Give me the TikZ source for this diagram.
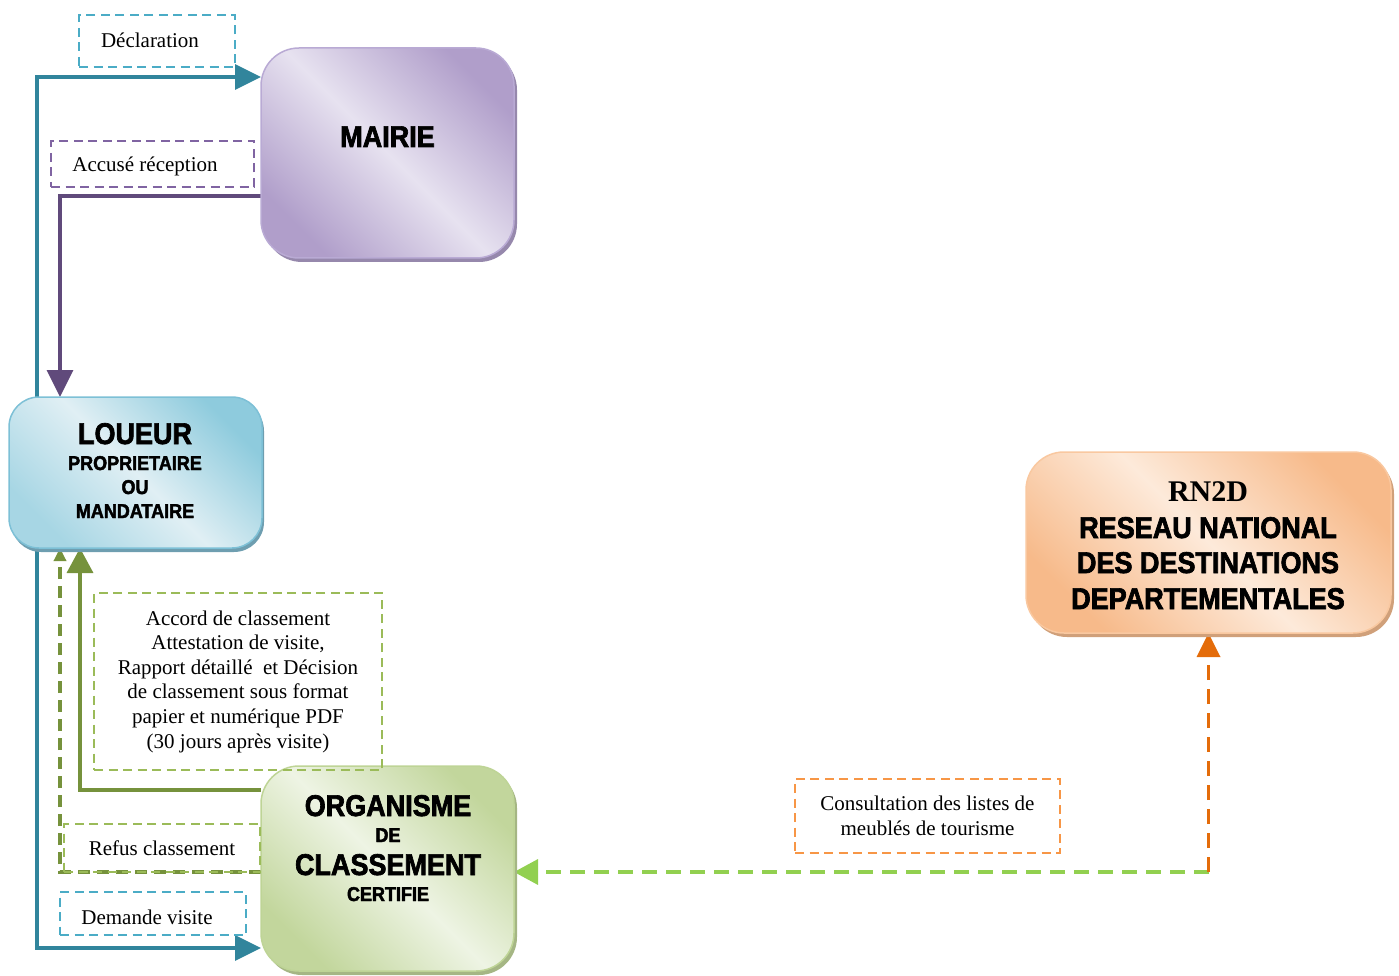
\documentclass[tikz,border=0pt]{standalone}
\usepackage{fontspec}
\setmainfont{Liberation Serif}
\newfontfamily\headfont[FakeStretch=0.9,BoldFeatures={FakeBold=2.2}]{Liberation Sans}
\usetikzlibrary{arrows.meta,shadows}
\definecolor{mairieDark}{RGB}{176,158,202}
\definecolor{mairieLight}{RGB}{231,226,240}
\definecolor{mairieBorder}{RGB}{185,170,212}
\definecolor{mairieShadow}{RGB}{150,136,172}
\definecolor{loueurDark}{RGB}{142,203,221}
\definecolor{loueurLight}{RGB}{224,239,244}
\definecolor{loueurBorder}{RGB}{125,192,214}
\definecolor{loueurShadow}{RGB}{110,158,176}
\definecolor{orgDark}{RGB}{194,214,156}
\definecolor{orgLight}{RGB}{238,244,228}
\definecolor{orgBorder}{RGB}{190,212,150}
\definecolor{orgShadow}{RGB}{165,182,132}
\definecolor{rnDark}{RGB}{247,186,138}
\definecolor{rnLight}{RGB}{253,234,218}
\definecolor{rnBorder}{RGB}{249,200,160}
\definecolor{rnShadow}{RGB}{208,160,122}
\definecolor{tealC}{RGB}{49,133,156}
\definecolor{purpleC}{RGB}{96,74,123}
\definecolor{oliveC}{RGB}{118,146,60}
\definecolor{lgreenC}{RGB}{146,208,80}
\definecolor{orangeC}{RGB}{228,108,10}
\definecolor{cyanC}{RGB}{75,172,198}
\definecolor{lpurpleC}{RGB}{128,100,162}
\definecolor{greenC}{RGB}{155,187,89}
\definecolor{lorangeC}{RGB}{247,150,70}
\begin{document}
\begin{tikzpicture}[x=1pt,y=-1pt,
  bigbox/.style={rounded corners=38pt, outer sep=0pt, inner sep=0pt, line width=1.5pt},
  mairiebox/.style={bigbox, draw=mairieBorder, top color=mairieDark, bottom color=mairieDark, middle color=mairieLight, shading angle=-45,
    drop shadow={shadow xshift=3pt, shadow yshift=-4pt, fill=mairieShadow, opacity=1}},
  loueurbox/.style={bigbox, rounded corners=30pt, draw=loueurBorder, top color=loueurDark, bottom color=loueurDark!70!loueurLight, middle color=loueurLight, shading angle=-45,
    drop shadow={shadow xshift=2pt, shadow yshift=-4pt, fill=loueurShadow, opacity=1}},
  orgbox/.style={bigbox, draw=orgBorder, top color=orgDark, bottom color=orgDark, middle color=orgLight, shading angle=-45,
    drop shadow={shadow xshift=3pt, shadow yshift=-4pt, fill=orgShadow, opacity=1}},
  rnbox/.style={bigbox, draw=rnBorder, top color=rnDark, bottom color=rnDark, middle color=rnLight, shading angle=-45,
    drop shadow={shadow xshift=3pt, shadow yshift=-4pt, fill=rnShadow, opacity=1}},
  headbig/.style={anchor=base, inner sep=0pt, font=\headfont\bfseries\fontsize{30}{36}\selectfont},
  headsmall/.style={anchor=base, inner sep=0pt, font=\headfont\bfseries\fontsize{20}{24}\selectfont},
  headserif/.style={anchor=base, inner sep=0pt, font=\bfseries\fontsize{30}{36}\selectfont},
  lbl/.style={draw, line width=2.4pt, dash pattern=on 9pt off 5.5pt, inner sep=0pt, align=center, font=\fontsize{21}{24.6}\selectfont},
  lbltext/.style={inner sep=0pt, align=center, font=\fontsize{21}{24.6}\selectfont},
  tealline/.style={draw=tealC, line width=3.5pt, -{Triangle[length=26pt,width=25pt]}},
  purpleline/.style={draw=purpleC, line width=3.2pt, -{Triangle[length=27pt,width=26pt]}},
  oliveline/.style={draw=oliveC, line width=3.5pt, -{Triangle[length=25pt,width=26pt]}},
  refusline/.style={draw=oliveC, line width=3.4pt, dash pattern=on 12pt off 7pt, -{Triangle[length=13pt,width=12pt]}},
  greenline/.style={draw=lgreenC, line width=3.5pt, dash pattern=on 15pt off 9pt, -{Triangle[length=24pt,width=25pt]}},
  orangeline/.style={draw=orangeC, line width=3.5pt, dash pattern=on 15pt off 9pt, -{Triangle[length=24pt,width=23pt]}}
]
\useasboundingbox (0,0) rectangle (1399,976);

% box frames used as anchors
\path (387.5,153) node[minimum width=253pt, minimum height=210pt, outer sep=0pt, inner sep=0pt] (mairie) {};
\path (135.5,472.5) node[minimum width=253pt, minimum height=151pt, outer sep=0pt, inner sep=0pt] (loueur) {};
\path (387.5,868.5) node[minimum width=253pt, minimum height=205pt, outer sep=0pt, inner sep=0pt] (organisme) {};
\path (1208.5,542.5) node[minimum width=365pt, minimum height=181pt, outer sep=0pt, inner sep=0pt] (rn2d) {};
\coordinate (corner) at (1208.5,872);

% connectors
\draw[tealline] ([xshift=28pt]loueur.north west) |- ([yshift=-29pt]mairie.north west);
\draw[tealline] ([xshift=28pt]loueur.south west) |- ([yshift=-182pt]organisme.north west);
\draw[purpleline] ([yshift=-148pt]mairie.north west) -| ([xshift=51pt]loueur.north west);
\draw[oliveline] ([yshift=-24pt]organisme.north west) -| ([xshift=71pt]loueur.south west);
\draw[refusline] ([yshift=-106pt]organisme.north west) -| ([xshift=51pt]loueur.south west);
\draw[greenline] (corner) -- (corner -| organisme.east);
\draw[orangeline] (corner) -- (rn2d.south);

% boxes drawn
\node[mairiebox, minimum width=253pt, minimum height=210pt] (mairieB) at (mairie) {};
\node[loueurbox, minimum width=253pt, minimum height=151pt] (loueurB) at (loueur) {};
\node[orgbox, minimum width=253pt, minimum height=205pt] (organismeB) at (organisme) {};
\node[rnbox, minimum width=365pt, minimum height=181pt] (rn2dB) at (rn2d) {};

% box texts
\node[headbig] (mairieT) at (387.5,147) {MAIRIE};
\node[headbig] (loueurT1) at (135,444) {LOUEUR};
\node[headsmall] (loueurT2) at (135,470) {PROPRIETAIRE};
\node[headsmall] (loueurT3) at (135,494) {OU};
\node[headsmall] (loueurT4) at (135,518) {MANDATAIRE};
\node[headbig] (orgT1) at (388,816) {ORGANISME};
\node[headsmall] (orgT2) at (388,842) {DE};
\node[headbig] (orgT3) at (388,875) {CLASSEMENT};
\node[headsmall] (orgT4) at (388,901) {CERTIFIE};
\node[headserif] (rnT1) at (1208,501) {RN2D};
\node[headbig] (rnT2) at (1208,538) {RESEAU NATIONAL};
\node[headbig] (rnT3) at (1208,573) {DES DESTINATIONS};
\node[headbig] (rnT4) at (1208,609) {DEPARTEMENTALES};

% label boxes
\node[lbl, draw=cyanC, minimum width=156pt, minimum height=52pt] (declLbl) at (157,41) {};
\node[lbltext] (declTxt) at (150,40) {Déclaration};
\node[lbl, draw=lpurpleC, minimum width=203pt, minimum height=46pt] (accuseLbl) at (152.5,164) {};
\node[lbltext] (accuseTxt) at (145,166) {Accusé réception};
\node[lbl, draw=greenC, minimum width=288pt, minimum height=177pt] (accordLbl) at (238,681.5) {Accord de classement\\Attestation de visite,\\Rapport détaillé\ \ et Décision\\de classement sous format\\papier et numérique PDF\\(30 jours après visite)};
\node[lbl, draw=greenC, minimum width=196pt, minimum height=48pt] (refusLbl) at (162,848) {Refus classement};
\node[lbl, draw=cyanC, minimum width=186pt, minimum height=43pt] (demandeLbl) at (153,913.5) {};
\node[lbltext] (demandeTxt) at (147,917) {Demande visite};
\node[lbl, draw=lorangeC, minimum width=265pt, minimum height=74pt] (consultLbl) at (927.5,816) {Consultation des listes de\\meublés de tourisme};
\end{tikzpicture}
\end{document}
